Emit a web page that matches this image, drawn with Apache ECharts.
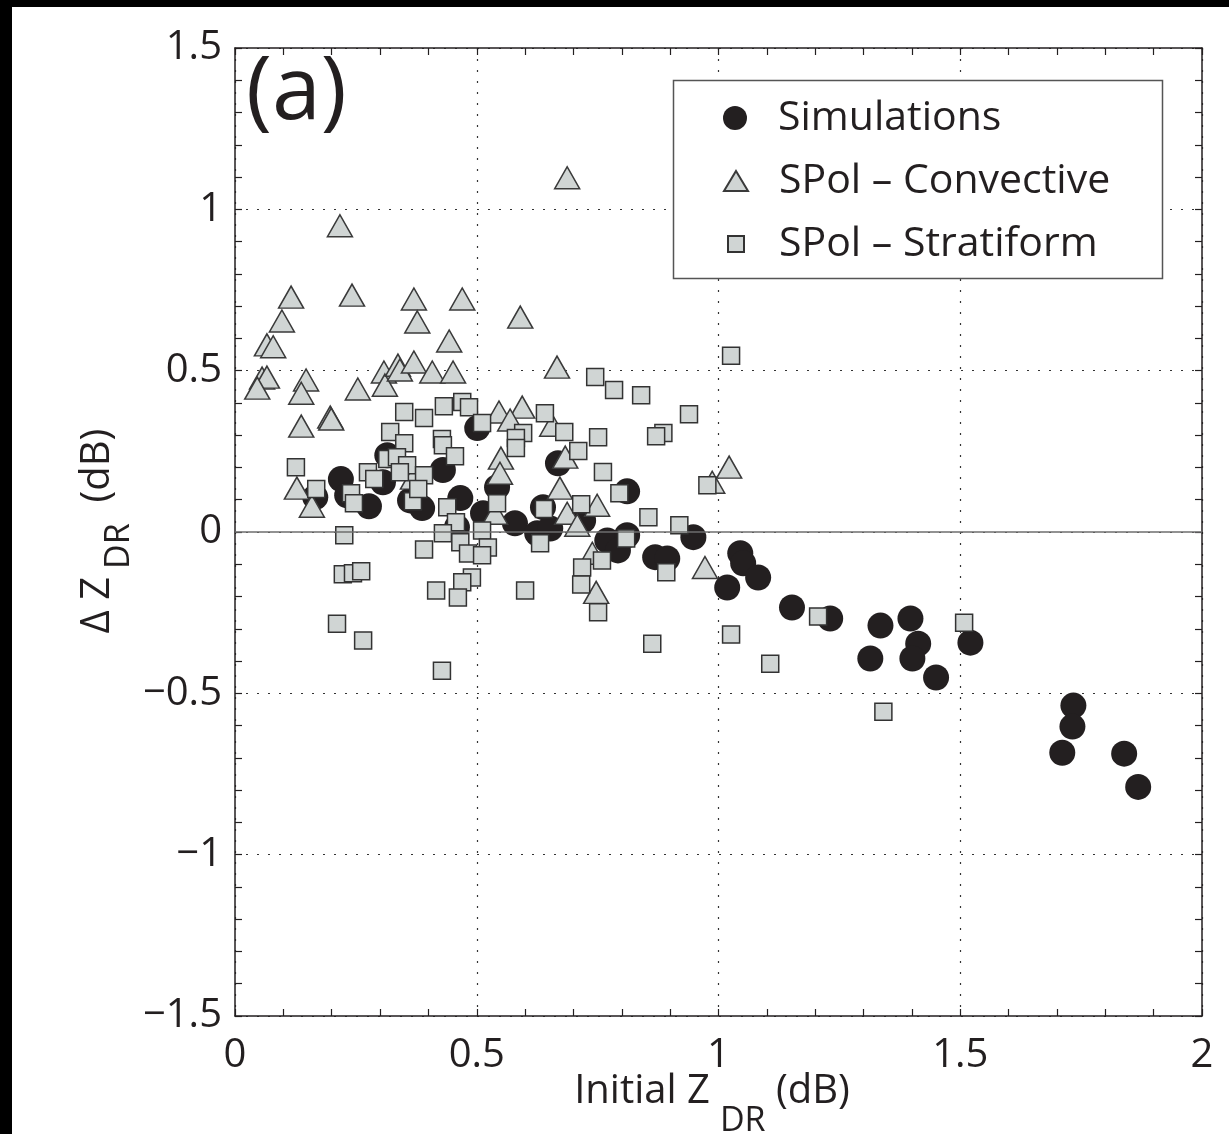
<!DOCTYPE html>
<html>
<head>
<meta charset="utf-8">
<script src="https://cdn.jsdelivr.net/npm/echarts@6/dist/echarts.min.js"></script>
<style>
  html, body { margin: 0; padding: 0; background: #fff; }
  #chart { position: absolute; left: 0; top: 0; width: 1229px; height: 1134px; }
  .band { position: absolute; background: #000; }
</style>
</head>
<body>
<div id="chart"></div>
<div class="band" style="left:0;top:0;width:1229px;height:7px;"></div>
<div class="band" style="left:0;top:0;width:12px;height:1134px;"></div>
<script>
// ---- data (Initial ZDR, Delta ZDR) in dB ----
const xTickLabels = ['0', '0.5', '1', '1.5', '2'];
const yTickLabels = ['−1.5', '−1', '−0.5', '0', '0.5', '1', '1.5'];
const seriesNames = ['Simulations', 'SPol – Convective', 'SPol – Stratiform'];

const simulations = [
  [0.166, 0.108], [0.219, 0.164], [0.232, 0.114], [0.277, 0.080], [0.315, 0.238],
  [0.306, 0.154], [0.362, 0.098], [0.387, 0.074], [0.430, 0.192], [0.466, 0.105],
  [0.459, 0.015], [0.501, 0.322], [0.513, 0.058], [0.542, 0.139], [0.579, 0.027],
  [0.625, -0.004], [0.637, 0.077], [0.652, 0.011], [0.668, 0.213], [0.720, 0.036],
  [0.770, -0.026], [0.811, -0.010], [0.792, -0.057], [0.811, 0.126], [0.869, -0.078],
  [0.894, -0.082], [0.948, -0.016], [1.045, -0.066], [1.051, -0.097], [1.082, -0.141],
  [1.018, -0.172], [1.152, -0.234], [1.231, -0.268], [1.335, -0.290], [1.397, -0.268],
  [1.413, -0.346], [1.314, -0.392], [1.401, -0.392], [1.450, -0.451], [1.521, -0.343],
  [1.734, -0.538], [1.732, -0.603], [1.711, -0.684], [1.839, -0.687], [1.868, -0.790]
];

const convective = [
  [0.217, 0.949], [0.687, 1.098], [0.116, 0.728], [0.242, 0.734], [0.370, 0.722],
  [0.470, 0.722], [0.097, 0.654], [0.377, 0.651], [0.590, 0.666], [0.066, 0.580],
  [0.079, 0.574], [0.443, 0.592], [0.666, 0.511], [0.056, 0.477], [0.066, 0.480],
  [0.046, 0.446], [0.147, 0.471], [0.137, 0.430], [0.254, 0.443], [0.308, 0.496],
  [0.310, 0.455], [0.337, 0.517], [0.341, 0.502], [0.370, 0.527], [0.408, 0.496],
  [0.451, 0.496], [0.137, 0.328], [0.197, 0.356], [0.199, 0.350], [0.128, 0.136],
  [0.159, 0.080], [0.546, 0.372], [0.594, 0.387], [0.569, 0.347], [0.656, 0.331],
  [0.550, 0.229], [0.548, 0.182], [0.683, 0.232], [0.672, 0.136], [0.538, 0.058],
  [0.687, 0.058], [0.749, 0.083], [0.708, 0.021], [0.739, -0.066], [0.747, -0.187],
  [0.972, -0.110], [1.022, 0.201], [0.987, 0.154], [0.368, 0.167]
];

const stratiform = [
  [0.350, 0.372], [0.391, 0.353], [0.432, 0.390], [0.470, 0.403], [0.484, 0.387],
  [0.511, 0.338], [0.321, 0.310], [0.350, 0.275], [0.428, 0.288], [0.430, 0.269],
  [0.455, 0.235], [0.315, 0.226], [0.335, 0.232], [0.356, 0.207], [0.341, 0.185],
  [0.391, 0.176], [0.275, 0.185], [0.288, 0.164], [0.126, 0.201], [0.168, 0.133],
  [0.240, 0.120], [0.246, 0.089], [0.368, 0.095], [0.379, 0.133], [0.439, 0.077],
  [0.457, 0.030], [0.430, -0.004], [0.466, -0.032], [0.482, -0.067], [0.226, -0.010],
  [0.391, -0.054], [0.223, -0.131], [0.244, -0.128], [0.261, -0.122], [0.416, -0.181],
  [0.490, -0.141], [0.470, -0.156], [0.461, -0.203], [0.211, -0.284], [0.265, -0.336],
  [0.428, -0.430], [0.745, 0.480], [0.784, 0.440], [0.840, 0.424], [0.939, 0.365],
  [1.026, 0.546], [0.641, 0.368], [0.681, 0.310], [0.751, 0.294], [0.886, 0.307],
  [0.871, 0.297], [0.596, 0.307], [0.581, 0.291], [0.581, 0.260], [0.710, 0.251],
  [0.761, 0.186], [0.795, 0.120], [0.542, 0.089], [0.639, 0.071], [0.716, 0.086],
  [0.855, 0.046], [0.919, 0.021], [0.511, 0.005], [0.523, -0.048], [0.511, -0.072],
  [0.631, -0.035], [0.809, -0.020], [0.759, -0.088], [0.718, -0.110], [0.892, -0.125],
  [0.716, -0.163], [0.600, -0.181], [0.751, -0.249], [0.863, -0.346], [1.026, -0.318],
  [0.977, 0.145], [1.107, -0.408], [1.206, -0.262], [1.341, -0.557], [1.508, -0.281]
];

// ---- styling ----
const INK = '#231f20';
const FONT = '"Open Sans", "Noto Sans", sans-serif';
const GRID = { left: 235, top: 48, right: 27, bottom: 118 };

function fmt(labels, min, step) {
  return function (v) {
    const i = Math.round((v - min) / step);
    return labels[i] !== undefined ? labels[i] : '';
  };
}

const axisLine = { show: true, onZero: false, lineStyle: { color: INK, width: 1.5 } };
const axisTick = { show: true, inside: true, length: 7, lineStyle: { color: INK, width: 1.2 } };
const minorTick = { show: true, splitNumber: 5, length: 7, lineStyle: { color: INK, width: 1.2 } };
const dotted = { show: true, lineStyle: { color: '#333', width: 1.2, type: [2, 9] } };

const chart = echarts.init(document.getElementById('chart'), null, { renderer: 'canvas' });

const legendBase = {
  orient: 'vertical', padding: 0, selectedMode: false,
  textStyle: { fontFamily: FONT, fontSize: 41, color: INK, lineHeight: 46 }
};

chart.setOption({
  animation: false,
  backgroundColor: 'transparent',
  grid: GRID,
  xAxis: [
    {
      type: 'value', min: 0, max: 2, interval: 0.5, position: 'bottom',
      axisLine, axisTick, minorTick, splitLine: dotted, minorSplitLine: { show: false },
      axisLabel: { fontFamily: FONT, fontSize: 40, color: INK, margin: 20, formatter: fmt(xTickLabels, 0, 0.5) }
    },
    {
      type: 'value', min: 0, max: 2, interval: 0.5, position: 'top',
      axisLine, axisTick, minorTick, splitLine: { show: false }, axisLabel: { show: false }
    }
  ],
  yAxis: [
    {
      type: 'value', min: -1.5, max: 1.5, interval: 0.5, position: 'left',
      axisLine, axisTick, minorTick, splitLine: dotted,
      axisLabel: { fontFamily: FONT, fontSize: 40, color: INK, margin: 13, formatter: fmt(yTickLabels, -1.5, 0.5) }
    },
    {
      type: 'value', min: -1.5, max: 1.5, interval: 0.5, position: 'right',
      axisLine, axisTick, minorTick, splitLine: { show: false }, axisLabel: { show: false }
    }
  ],
  legend: [
    Object.assign({}, legendBase, {
      data: [seriesNames[0]], left: 723, top: 95, itemWidth: 24, itemHeight: 24,
      textStyle: Object.assign({}, legendBase.textStyle, { padding: [0, 0, 0, 26] })
    }),
    Object.assign({}, legendBase, {
      data: [seriesNames[1]], left: 723, top: 158, itemWidth: 24, itemHeight: 20,
      textStyle: Object.assign({}, legendBase.textStyle, { padding: [0, 0, 0, 26] })
    }),
    Object.assign({}, legendBase, {
      data: [seriesNames[2]], left: 727, top: 221, itemWidth: 16, itemHeight: 16,
      textStyle: Object.assign({}, legendBase.textStyle, { padding: [0, 0, 0, 30] })
    })
  ],
  graphic: [
    {
      type: 'rect', z: 3, zlevel: 0,
      shape: { x: 673.5, y: 80.5, width: 489, height: 198 },
      style: { fill: '#fff', stroke: '#555', lineWidth: 1.5 }
    },
    {
      type: 'text', z: 10, left: 246, top: 50,
      style: { text: '(a)', fontFamily: FONT, fontSize: 88, fill: INK }
    },
    {
      type: 'text', z: 10, x: 712, y: 1092,
      style: {
        text: '{a|Initial Z}{s|DR}{a| (dB)}', align: 'center', verticalAlign: 'middle',
        rich: {
          a: { fontFamily: FONT, fontSize: 40, fill: INK },
          s: { fontFamily: FONT, fontSize: 34, fill: INK, padding: [58, 0, 0, 10] }
        }
      }
    },
    {
      type: 'text', z: 10, x: 98, y: 531, rotation: Math.PI / 2,
      style: {
        text: '{a|Δ Z}{s|DR}{a|  (dB)}', align: 'center', verticalAlign: 'middle',
        rich: {
          a: { fontFamily: FONT, fontSize: 40, fill: INK },
          s: { fontFamily: FONT, fontSize: 34, fill: INK, padding: [42, 0, 0, 8] }
        }
      }
    }
  ],
  series: [
    {
      name: seriesNames[0], type: 'scatter', data: simulations,
      symbol: 'circle', symbolSize: 26,
      itemStyle: { color: INK, opacity: 1 },
      emphasis: { disabled: true },
      markLine: {
        silent: true, symbol: 'none', label: { show: false },
        lineStyle: { color: '#6e6e6e', width: 1.6, type: 'solid' },
        data: [{ yAxis: 0 }]
      },
      z: 2
    },
    {
      name: seriesNames[1], type: 'scatter', data: convective,
      symbol: 'triangle', symbolSize: [25, 22],
      itemStyle: { color: '#d0d5d4', borderColor: '#3a3a3a', borderWidth: 1.5, opacity: 1 },
      emphasis: { disabled: true }, z: 3
    },
    {
      name: seriesNames[2], type: 'scatter', data: stratiform,
      symbol: 'rect', symbolSize: 17,
      itemStyle: { color: '#d0d5d4', borderColor: '#333', borderWidth: 1.5, opacity: 1 },
      emphasis: { disabled: true }, z: 4
    }
  ]
});
</script>
</body>
</html>
